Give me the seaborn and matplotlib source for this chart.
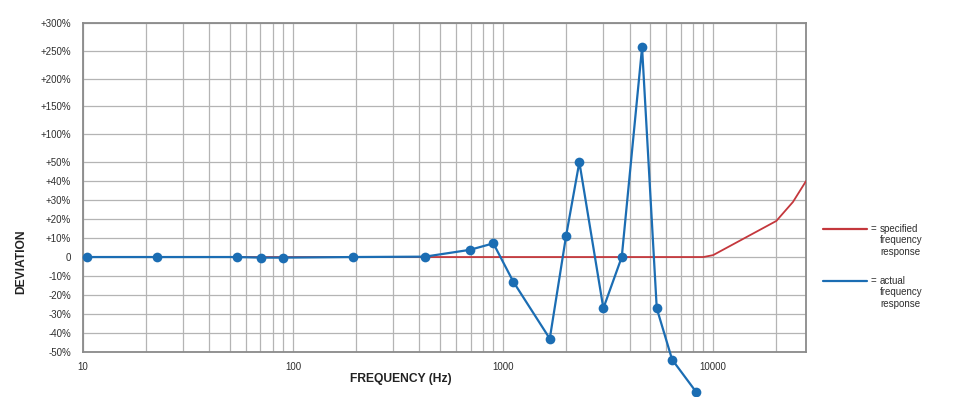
import numpy as np
import pandas as pd
import matplotlib
matplotlib.use('Agg')
import matplotlib.pyplot as plt
from matplotlib.lines import Line2D
from matplotlib.ticker import FixedLocator, LogLocator, NullFormatter
import seaborn as sns

# actual frequency response (measured points)
actual_freq = [10.4, 22.4, 54, 70.2, 89.9, 193, 425, 696, 899, 1119, 1669, 1995,
               2308, 3003, 3674, 4590, 5392, 6381, 8299]
actual_dev = [0, 0, 0, -0.3, -0.3, 0, 0.2, 3.8, 7.2, -13, -43, 11,
              50, -27, 0, 256, -27, -54, -71]

# specified frequency response
spec_freq = [10, 9000, 10000, 20000, 24000, 27700]
spec_dev = [0, 0, 1, 19, 29, 40]

ytick_vals = [-50, -40, -30, -20, -10, 0, 10, 20, 30, 40, 50, 100, 150, 200, 250, 300]
ytick_labels = ['-50%', '-40%', '-30%', '-20%', '-10%', '0', '+10%', '+20%', '+30%',
                '+40%', '+50%', '+100%', '+150%', '+200%', '+250%', '+300%']
xtick_vals = [10, 100, 1000, 10000]
xtick_labels = ['10', '100', '1000', '10000']

BLUE = '#1b6db3'
RED = '#c4373c'
GRID = '#b4b4b4'
TXT = '#2e2e2e'

sns.set_style('white')
plt.rcParams['font.family'] = ['Liberation Sans', 'DejaVu Sans']

# y axis: 10% steps below +50%, compressed 50% steps above
K = 0.293
def fwd(y):
    y = np.asarray(y, dtype=float)
    return np.where(y <= 50, y, 50 + (y - 50) * K)

def inv(v):
    v = np.asarray(v, dtype=float)
    return np.where(v <= 50, v, 50 + (v - 50) / K)

fig = plt.figure(figsize=(9.66, 3.97), dpi=100)
ax = fig.add_axes([0.0859, 0.1134, 0.7485, 0.8287])

spec_df = pd.DataFrame({'freq': spec_freq, 'dev': spec_dev})
act_df = pd.DataFrame({'freq': actual_freq, 'dev': actual_dev})

sns.lineplot(data=spec_df, x='freq', y='dev', ax=ax, color=RED, lw=1.3,
             estimator=None, zorder=3)
sns.lineplot(data=act_df, x='freq', y='dev', ax=ax, color=BLUE, lw=1.6,
             marker='o', markersize=7, markeredgewidth=0, estimator=None,
             clip_on=False, zorder=4)

ax.set_xscale('log')
ax.set_yscale('function', functions=(fwd, inv))
ax.set_xlim(10, 27700)
ax.set_ylim(-50, 300)

ax.yaxis.set_major_locator(FixedLocator(ytick_vals))
ax.set_yticklabels(ytick_labels)
ax.yaxis.set_minor_locator(FixedLocator([]))
ax.xaxis.set_major_locator(FixedLocator(xtick_vals))
ax.set_xticklabels(xtick_labels)
ax.xaxis.set_minor_locator(LogLocator(base=10, subs=np.arange(2, 10)))
ax.xaxis.set_minor_formatter(NullFormatter())

ax.grid(True, which='both', axis='x', color=GRID, lw=0.9)
ax.grid(True, which='major', axis='y', color=GRID, lw=0.9)
ax.set_axisbelow(True)
ax.tick_params(axis='both', which='both', length=0, labelsize=7, colors=TXT)
ax.tick_params(axis='y', pad=8.5)
ax.tick_params(axis='x', pad=7)

for s in ax.spines.values():
    s.set_color('#8a8a8a')
    s.set_linewidth(1.3)

ax.set_xlabel('FREQUENCY (Hz)', fontsize=8.7, fontweight='bold', color='#222222')
ax.xaxis.set_label_coords(0.44, -0.065)
ax.set_ylabel('DEVIATION', fontsize=8.7, fontweight='bold', color='#222222')
ax.yaxis.set_label_coords(-0.0775, 0.274)

# legend drawn by hand, to the right of the plot
def legend_entry(y_px, color, lines):
    y0 = 1 - y_px / 397
    fig.add_artist(Line2D([823 / 966, 867 / 966], [y0, y0], color=color, lw=1.6,
                          transform=fig.transFigure))
    fig.text(871 / 966, y0, '=', fontsize=7, color=TXT, va='center')
    for i, t in enumerate(lines):
        fig.text(880 / 966, 1 - (y_px + i * 11.3) / 397, t, fontsize=7,
                 color=TXT, va='center')

legend_entry(229, RED, ['specified', 'frequency', 'response'])
legend_entry(281, BLUE, ['actual', 'frequency', 'response'])

fig.savefig('out.png', dpi=100)
